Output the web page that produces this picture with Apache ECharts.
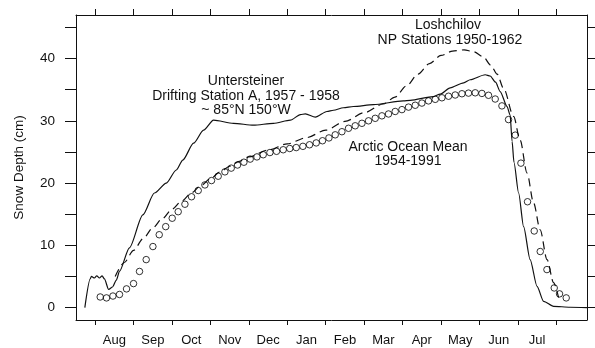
<!DOCTYPE html>
<html>
<head>
<meta charset="utf-8">
<script src="https://cdn.jsdelivr.net/npm/echarts@6/dist/echarts.min.js"></script>
<style>
html,body{margin:0;padding:0;background:#fff;}
#chart{width:595px;height:348px;}
</style>
</head>
<body>
<div id="chart"></div>
<script>
// Month labels (x axis in months after 1 Aug; ticks at month boundaries)
const months = ['Aug','Sep','Oct','Nov','Dec','Jan','Feb','Mar','Apr','May','Jun','Jul'];
const monthTicks = [0,1,2,3,4,5,6,7,8,9,10,11,12];
const monthLabelPos = [0.5,1.5,2.5,3.5,4.5,5.5,6.5,7.5,8.5,9.5,10.5,11.5];
const yTicks = [0,5,10,15,20,25,30,35,40,45];
const yLabels = [0,10,20,30,40];

// Untersteiner, Drifting Station A 1957-1958 (solid)
const untX = [-0.27,-0.13,-0.10,-0.02,0.04,0.11,0.18,0.24,0.35,0.45,0.55,0.63,0.89,1.24,1.54,1.85,2.11,2.28,2.56,2.82,3.08,3.60,4.12,4.64,5.08,5.34,5.47,5.73,6.03,6.20,6.46,6.72,7.24,8.02,8.20,8.80,8.98,9.24,9.59,9.76,10.15,10.28,10.42,10.54,10.72,10.80,10.85,10.90,11.02,11.15,11.32,11.50,11.67,11.93,12.36,12.80];
const untY = [0.0,4.6,5.0,4.75,5.1,4.75,5.1,4.6,2.9,3.3,4.4,5.8,9.6,14.9,18.4,20.0,22.1,23.7,26.4,28.5,30.1,29.6,29.3,29.6,30.1,31.0,31.1,30.6,31.5,31.7,32.1,32.3,32.6,33.2,33.3,33.9,34.3,35.3,36.1,36.6,37.4,37.2,36.2,34.7,32.3,30.9,26.7,23.3,18.4,13.0,7.7,3.4,1.0,0.2,0.05,0.0];

// Loshchilov, NP Stations 1950-1962 (dashed)
const loshX = [0.52,0.75,1.0,1.25,1.5,1.75,2.0,2.25,2.5,2.75,3.0,3.25,3.5,3.75,4.0,4.5,5.0,5.5,6.0,6.5,7.0,7.5,7.8,8.1,8.4,8.7,9.0,9.3,9.6,9.85,10.1,10.3,10.46,10.63,10.89,11.06,11.24,11.41,11.58,11.76,11.93,12.06];
const loshY = [5.0,7.2,9.2,11.1,12.8,14.3,15.8,17.1,18.4,19.6,20.7,21.8,22.7,23.5,24.2,25.3,26.3,27.3,28.5,29.9,31.3,32.7,33.8,35.6,37.5,39.2,40.5,41.2,41.4,41.1,40.3,38.9,37.5,35.2,30.7,26.9,21.6,16.8,12.5,7.7,4.0,1.6];

// Arctic Ocean Mean 1954-1991 (circles)
const meanX = [0.130,0.294,0.461,0.632,0.815,0.997,1.153,1.327,1.502,1.666,1.835,2.004,2.160,2.335,2.507,2.681,2.855,3.027,3.201,3.376,3.540,3.704,3.870,4.034,4.209,4.373,4.547,4.719,4.893,5.063,5.232,5.406,5.578,5.752,5.916,6.083,6.247,6.421,6.593,6.767,6.942,7.114,7.288,7.462,7.634,7.808,7.983,8.155,8.329,8.503,8.675,8.850,9.024,9.196,9.370,9.545,9.716,9.891,10.065,10.237,10.411,10.586,10.757,10.932,11.080,11.252,11.426,11.583,11.757,11.947,12.085,12.259];
const meanY = [1.7,1.55,1.85,2.1,3.0,3.85,5.8,7.7,9.8,11.7,13.0,14.35,15.4,16.6,17.8,18.8,19.7,20.4,21.1,21.8,22.4,22.9,23.35,23.85,24.2,24.55,24.9,25.1,25.35,25.55,25.7,25.9,26.15,26.45,26.8,27.25,27.75,28.25,28.8,29.2,29.6,30.0,30.4,30.8,31.1,31.5,31.8,32.2,32.5,32.85,33.2,33.45,33.7,33.95,34.15,34.35,34.45,34.5,34.4,34.1,33.5,32.4,30.2,27.7,23.2,17.0,12.3,9.0,6.1,3.15,2.2,1.55];

const zip = (xs, ys) => xs.map((x, i) => [x, ys[i]]);
const FONT = '"Liberation Sans", Arial, Helvetica, sans-serif';
const INK = '#111';

const chart = echarts.init(document.getElementById('chart'), null, {renderer: 'canvas'});
const xCommon = {
  type: 'value', min: -0.5, max: 12.8,
  splitLine: {show: false},
  axisLine: {show: true, onZero: false, lineStyle: {color: INK, width: 1}}
};
const yCommon = {
  type: 'value', min: -2, max: 47,
  splitLine: {show: false},
  axisLine: {show: true, onZero: false, lineStyle: {color: INK, width: 1}}
};
const txt = (s, x, y) => ({type: 'text', x: x, y: y, style: {text: s, font: '14px ' + FONT, fill: INK, align: 'center', verticalAlign: 'middle'}});
chart.setOption({
  animation: false,
  backgroundColor: '#fff',
  grid: {left: 76, right: 8, top: 15, bottom: 28},
  xAxis: [
    Object.assign({}, xCommon, {
      position: 'bottom',
      axisTick: {show: true, inside: false, length: 5, customValues: monthTicks, lineStyle: {color: INK}},
      axisLabel: {show: true, customValues: monthLabelPos, margin: 14, color: INK, fontSize: 13, fontFamily: FONT,
        formatter: v => months[Math.round(v - 0.5)] || ''}
    }),
    Object.assign({}, xCommon, {
      position: 'top',
      axisTick: {show: true, inside: false, length: 6, customValues: monthTicks, lineStyle: {color: INK}},
      axisLabel: {show: false}
    })
  ],
  yAxis: [
    Object.assign({}, yCommon, {
      position: 'left',
      name: 'Snow Depth (cm)', nameLocation: 'middle', nameGap: 50, nameRotate: 90,
      nameTextStyle: {color: INK, fontSize: 13.5, fontFamily: FONT},
      axisTick: {show: true, inside: false, length: 11, customValues: yTicks, lineStyle: {color: INK}},
      axisLabel: {show: true, customValues: yLabels, margin: 21, color: INK, fontSize: 13.5, fontFamily: FONT}
    }),
    Object.assign({}, yCommon, {
      position: 'right',
      axisTick: {show: true, inside: false, length: 9, customValues: yTicks, lineStyle: {color: INK}},
      axisLabel: {show: false}
    })
  ],
  series: [
    {
      name: 'Untersteiner', type: 'line', data: zip(untX, untY),
      showSymbol: false, smooth: 0.25, smoothMonotone: 'x',
      lineStyle: {color: INK, width: 1.2}, z: 3
    },
    {
      name: 'Loshchilov', type: 'line', data: zip(loshX, loshY),
      showSymbol: false, smooth: 0.3, smoothMonotone: 'x',
      lineStyle: {color: INK, width: 1.2, type: [8, 5]}, z: 3
    },
    {
      name: 'Arctic Ocean Mean', type: 'scatter', data: zip(meanX, meanY),
      symbol: 'circle', symbolSize: 6.5,
      itemStyle: {color: 'rgba(255,255,255,0)', borderColor: '#000', borderWidth: 1}, z: 4
    }
  ],
  graphic: [
    txt('Untersteiner', 246, 81),
    txt('Drifting Station A, 1957 - 1958', 246, 96),
    txt('~ 85°N 150°W', 246, 110),
    txt('Loshchilov', 448, 25),
    txt('NP Stations 1950-1962', 450, 40),
    txt('Arctic Ocean Mean', 408, 147),
    txt('1954-1991', 408, 161)
  ]
});
</script>
</body>
</html>
